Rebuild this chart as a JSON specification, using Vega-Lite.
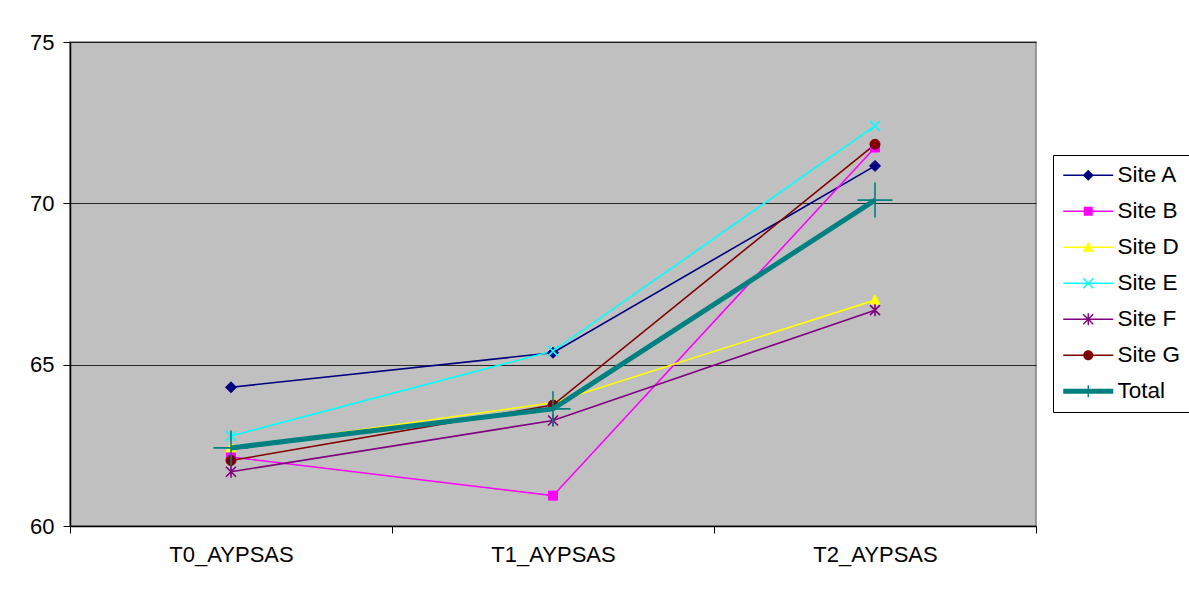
{
  "$schema": "https://vega.github.io/schema/vega-lite/v6.json",
  "autosize": "none",
  "width": 966,
  "height": 484,
  "padding": {"left": 70, "top": 42, "right": 153, "bottom": 68},
  "background": "white",
  "config": {
    "font": "Liberation Sans",
    "view": {"fill": "#C0C0C0", "stroke": "#808080", "strokeWidth": 1.5},
    "axis": {"labelFont": "Liberation Sans", "labelFontSize": 22, "labelColor": "black", "domainColor": "black", "tickColor": "black", "title": null}
  },
  "data": {
    "values": [
      {"series": "Site A", "time": "T0_AYPSAS", "value": 64.3},
      {"series": "Site A", "time": "T1_AYPSAS", "value": 65.37},
      {"series": "Site A", "time": "T2_AYPSAS", "value": 71.16},
      {"series": "Site B", "time": "T0_AYPSAS", "value": 62.14},
      {"series": "Site B", "time": "T1_AYPSAS", "value": 60.94},
      {"series": "Site B", "time": "T2_AYPSAS", "value": 71.73},
      {"series": "Site D", "time": "T0_AYPSAS", "value": 62.42},
      {"series": "Site D", "time": "T1_AYPSAS", "value": 63.82},
      {"series": "Site D", "time": "T2_AYPSAS", "value": 67.0},
      {"series": "Site E", "time": "T0_AYPSAS", "value": 62.79},
      {"series": "Site E", "time": "T1_AYPSAS", "value": 65.42},
      {"series": "Site E", "time": "T2_AYPSAS", "value": 72.4},
      {"series": "Site F", "time": "T0_AYPSAS", "value": 61.68},
      {"series": "Site F", "time": "T1_AYPSAS", "value": 63.27},
      {"series": "Site F", "time": "T2_AYPSAS", "value": 66.69},
      {"series": "Site G", "time": "T0_AYPSAS", "value": 62.03},
      {"series": "Site G", "time": "T1_AYPSAS", "value": 63.75},
      {"series": "Site G", "time": "T2_AYPSAS", "value": 71.83},
      {"series": "Total", "time": "T0_AYPSAS", "value": 62.42},
      {"series": "Total", "time": "T1_AYPSAS", "value": 63.63},
      {"series": "Total", "time": "T2_AYPSAS", "value": 70.1}
    ]
  },
  "encoding": {
    "x": {
      "field": "time", "type": "nominal",
      "scale": {"type": "band", "paddingInner": 0, "paddingOuter": 0},
      "axis": {"labelAngle": 0, "tickBand": "extent", "tickSize": 7, "labelPadding": 11, "grid": false, "domainWidth": 1.5}
    },
    "y": {
      "field": "value", "type": "quantitative",
      "scale": {"domain": [60, 75], "nice": false, "zero": false},
      "axis": {"values": [60, 65, 70, 75], "tickSize": 7, "labelPadding": 9, "grid": true, "gridColor": "black", "gridWidth": 1, "gridOpacity": 0.8, "domainWidth": 1.5}
    }
  },
  "layer": [
    {
      "transform": [{"filter": "datum.series !== 'Total'"}],
      "mark": {"type": "line", "strokeWidth": 1.6},
      "encoding": {
        "color": {
          "field": "series", "type": "nominal", "title": null,
          "scale": {"domain": ["Site A", "Site B", "Site D", "Site E", "Site F", "Site G", "Total"],
                    "range": ["#000080", "#FF00FF", "#FFFF00", "#00FFFF", "#800080", "#800000", "#008080"]}
        }
      }
    },
    {
      "transform": [{"filter": {"field": "series", "equal": "Site A"}}],
      "mark": {"type": "point", "filled": true, "size": 100, "opacity": 1, "shape": "M0,-1.1L1.1,0L0,1.1L-1.1,0Z", "fill": "#000080", "stroke": "#000080", "strokeWidth": 1}
    },
    {
      "transform": [{"filter": {"field": "series", "equal": "Site B"}}],
      "mark": {"type": "point", "filled": true, "size": 100, "opacity": 1, "shape": "M-0.9,-0.9L0.9,-0.9L0.9,0.9L-0.9,0.9Z", "fill": "#FF00FF", "stroke": "#FF00FF", "strokeWidth": 1}
    },
    {
      "transform": [{"filter": {"field": "series", "equal": "Site D"}}],
      "mark": {"type": "point", "filled": true, "size": 100, "opacity": 1, "shape": "M0,-1.1L1,0.8L-1,0.8Z", "fill": "#FFFF00", "stroke": "#FFFF00", "strokeWidth": 1}
    },
    {
      "transform": [{"filter": {"field": "series", "equal": "Site E"}}],
      "mark": {"type": "point", "filled": false, "size": 100, "opacity": 1, "shape": "M-1,-1L1,1M-1,1L1,-1", "stroke": "#00FFFF", "strokeWidth": 1.6}
    },
    {
      "transform": [{"filter": {"field": "series", "equal": "Site F"}}],
      "mark": {"type": "point", "filled": false, "size": 100, "opacity": 1, "shape": "M-1,-1L1,1M-1,1L1,-1M0,-1.2L0,1.2", "stroke": "#800080", "strokeWidth": 1.6}
    },
    {
      "transform": [{"filter": {"field": "series", "equal": "Site G"}}],
      "mark": {"type": "point", "filled": true, "size": 100, "opacity": 1, "shape": "circle", "fill": "#800000", "stroke": "#800000", "strokeWidth": 1}
    },
    {
      "transform": [{"filter": {"field": "series", "equal": "Total"}}],
      "mark": {"type": "line", "strokeWidth": 5, "color": "#008080"}
    },
    {
      "transform": [{"filter": {"field": "series", "equal": "Total"}}],
      "mark": {"type": "point", "filled": false, "size": 100, "opacity": 1, "shape": "M-3.5,0L3.5,0M0,-3.5L0,3.5", "stroke": "#008080", "strokeWidth": 1.6}
    },
    {
      "mark": {"type": "point", "filled": true, "size": 0, "opacity": 1},
      "encoding": {
        "color": {"field": "series", "type": "nominal", "title": null},
        "shape": {
          "field": "series", "type": "nominal", "title": null,
          "scale": {"domain": ["Site A", "Site B", "Site D", "Site E", "Site F", "Site G", "Total"],
                    "range": [
                      "M-2.5,-0.08L2.5,-0.08L2.5,0.08L-2.5,0.08Z M0,-0.55L0.55,0L0,0.55L-0.55,0Z",
                      "M-2.5,-0.08L2.5,-0.08L2.5,0.08L-2.5,0.08Z M-0.45,-0.45L0.45,-0.45L0.45,0.45L-0.45,0.45Z",
                      "M-2.5,-0.08L2.5,-0.08L2.5,0.08L-2.5,0.08Z M0,-0.55L0.55,0.45L-0.55,0.45Z",
                      "M-2.5,-0.08L2.5,-0.08L2.5,0.08L-2.5,0.08Z M-0.55,-0.45L-0.45,-0.55L0.55,0.45L0.45,0.55Z M0.45,-0.55L0.55,-0.45L-0.45,0.55L-0.55,0.45Z",
                      "M-2.5,-0.08L2.5,-0.08L2.5,0.08L-2.5,0.08Z M-0.55,-0.45L-0.45,-0.55L0.55,0.45L0.45,0.55Z M0.45,-0.55L0.55,-0.45L-0.45,0.55L-0.55,0.45Z M-0.07,-0.6L0.07,-0.6L0.07,0.6L-0.07,0.6Z",
                      "M-2.5,-0.08L2.5,-0.08L2.5,0.08L-2.5,0.08Z M-0.5,0A0.5,0.5 0 1,1 0.5,0A0.5,0.5 0 1,1 -0.5,0Z",
                      "M-2.5,-0.25L2.5,-0.25L2.5,0.25L-2.5,0.25Z M-0.07,-0.6L0.07,-0.6L0.07,0.6L-0.07,0.6Z"
                    ]},
          "legend": {
            "orient": "none",
            "legendX": 983,
            "legendY": 113,
            "padding": 9,
            "strokeColor": "black",
            "fillColor": "white",
            "cornerRadius": 0,
            "symbolSize": 400,
            "symbolOffset": 15,
            "labelOffset": 18,
            "rowPadding": 13,
            "labelFont": "Liberation Sans",
            "labelFontSize": 22.5,
            "labelColor": "black",
            "symbolOpacity": 1,
            "symbolStrokeWidth": 0
          }
        }
      }
    }
  ]
}
